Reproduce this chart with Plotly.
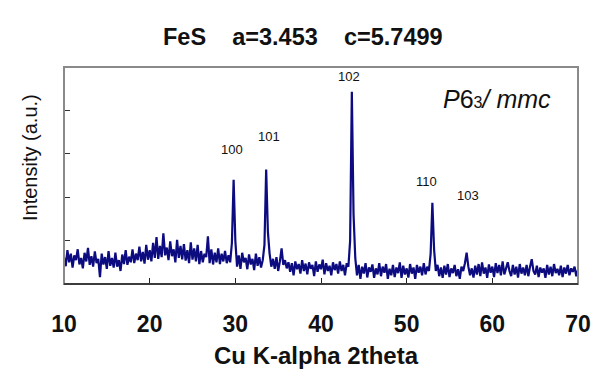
import numpy as np
import plotly.graph_objects as go

# 2theta grid: 10..70 deg, 0.2 deg step
two_theta = [round(10 + 0.2 * i, 1) for i in range(301)]

intensity = [
    # 10-12
    0.62, 0.41, 0.78, 0.50, 0.70, 0.38, 0.66, 0.55, 0.80, 0.45,
    # 12-14
    0.60, 0.36, 0.72, 0.52, 0.83, 0.44, 0.64, 0.40, 0.75, 0.48,
    # 14-16
    0.58, 0.16, 0.70, 0.45, 0.62, 0.35, 0.76, 0.42, 0.60, 0.38,
    # 16-18
    0.72, 0.40, 0.55, 0.30, 0.68, 0.46, 0.78, 0.44, 0.63, 0.50,
    # 18-20
    0.80, 0.48, 0.70, 0.55, 0.86, 0.52, 0.74, 0.47, 0.90, 0.56,
    # 20-22
    0.78, 0.52, 0.95, 0.60, 1.08, 0.58, 0.88, 0.62, 1.17, 0.66,
    # 22-24
    0.84, 0.55, 0.98, 0.64, 0.80, 0.50, 1.02, 0.60, 0.88, 0.57,
    # 24-26
    0.92, 0.54, 0.78, 0.48, 0.96, 0.56, 0.82, 0.52, 0.90, 0.46,
    # 26-28
    0.76, 0.50, 0.70, 0.62, 1.10, 0.48, 0.80, 0.45, 0.72, 0.50,
    # 28-30
    0.82, 0.46, 0.70, 0.52, 0.76, 0.48, 0.66, 0.50, 0.95, 2.40,
    # 30-32
    1.00, 0.40, 0.66, 0.35, 0.72, 0.50, 0.60, 0.34, 0.68, 0.45,
    # 32-34
    0.58, 0.32, 0.70, 0.42, 0.62, 0.38, 0.55, 0.90, 2.64, 1.20,
    # 34-36
    0.70, 0.40, 0.58, 0.35, 0.62, 0.30, 0.52, 0.82, 0.44, 0.55,
    # 36-38
    0.36, 0.50, 0.28, 0.48, 0.20, 0.52, 0.34, 0.46, 0.24, 0.55,
    # 38-40
    0.30, 0.47, 0.22, 0.50, 0.35, 0.44, 0.18, 0.52, 0.28, 0.45,
    # 40-42
    0.34, 0.56, 0.22, 0.48, 0.30, 0.42, 0.20, 0.50, 0.32, 0.46,
    # 42-44
    0.24, 0.52, 0.30, 0.44, 0.20, 0.48, 0.40, 1.00, 4.43, 1.60,
    # 44-46
    0.60, 0.20, 0.44, 0.12, 0.40, 0.24, 0.48, 0.15, 0.38, 0.28,
    # 46-48
    0.45, 0.14, 0.36, 0.22, 0.48, 0.18, 0.40, 0.26, 0.46, 0.12,
    # 48-50
    0.35, 0.20, 0.44, 0.16, 0.38, 0.25, 0.50, 0.14, 0.42, 0.22,
    # 50-52
    0.36, 0.15, 0.46, 0.24, 0.38, 0.12, 0.44, 0.26, 0.40, 0.20,
    # 52-54
    0.48, 0.22, 0.40, 0.30, 0.70, 1.87, 0.80, 0.30, 0.44, 0.18,
    # 54-56
    0.38, 0.14, 0.42, 0.22, 0.46, 0.16, 0.36, 0.25, 0.44, 0.18,
    # 56-58
    0.34, 0.12, 0.40, 0.30, 0.48, 0.72, 0.40, 0.20, 0.36, 0.15,
    # 58-60
    0.42, 0.22, 0.46, 0.18, 0.50, 0.24, 0.38, 0.14, 0.45, 0.26,
    # 60-62
    0.40, 0.16, 0.48, 0.25, 0.44, 0.20, 0.52, 0.22, 0.36, 0.50,
    # 62-64
    0.30, 0.18, 0.44, 0.22, 0.40, 0.15, 0.46, 0.24, 0.38, 0.20,
    # 64-66
    0.44, 0.18, 0.40, 0.57, 0.30, 0.22, 0.42, 0.16, 0.38, 0.26,
    # 66-68
    0.36, 0.14, 0.44, 0.22, 0.40, 0.18, 0.46, 0.25, 0.35, 0.20,
    # 68-70
    0.42, 0.16, 0.38, 0.24, 0.44, 0.20, 0.36, 0.28, 0.40, 0.18,
    # 70
    0.32,
]

peak_labels = ["100", "101", "102", "110", "103"]
peak_label_x = [29.57, 33.93, 43.27, 52.34, 57.16]
peak_label_y = [3.09, 3.39, 4.78, 2.36, 2.05]

x_ticks = [10, 20, 30, 40, 50, 60, 70]

FONT = "Liberation Sans, Arial, sans-serif"

fig = go.Figure()
fig.add_trace(go.Scatter(
    x=two_theta, y=intensity, mode="lines",
    line=dict(color="#0c0c80", width=2.2),
    showlegend=False, hoverinfo="skip",
))

# gray frame
fig.add_shape(type="rect", xref="paper", yref="paper", x0=0, y0=0, x1=1, y1=1,
              line=dict(color="#8a8a8a", width=2), layer="above")
# dark bottom axis line
fig.add_shape(type="line", xref="paper", yref="paper", x0=0, y0=0, x1=1, y1=0,
              line=dict(color="#222", width=1.5), layer="above")

fig.update_layout(
    width=616, height=387,
    margin=dict(l=64, r=38, t=67, b=103),
    paper_bgcolor="white", plot_bgcolor="white",
    xaxis=dict(
        range=[10, 70], tickvals=x_ticks, ticktext=[str(v) for v in x_ticks],
        ticks="inside", ticklen=6, tickcolor="#222", tickwidth=1,
        ticklabelstandoff=24,
        showline=False, showgrid=False, zeroline=False,
        tickfont=dict(family=FONT, size=23, color="#111", weight="bold"),
    ),
    yaxis=dict(
        range=[0, 5], tickvals=[1, 2, 3, 4], showticklabels=False,
        ticks="inside", ticklen=6, tickcolor="#333", tickwidth=1,
        showline=False, showgrid=False, zeroline=False,
    ),
)

ann = []
for t, xv, yv in zip(peak_labels, peak_label_x, peak_label_y):
    ann.append(dict(x=xv, y=yv, xref="x", yref="y", text=t, showarrow=False,
                    xanchor="center", yanchor="middle",
                    font=dict(family=FONT, size=13, color="#111")))

def px(xp):
    return (xp - 64) / 514

def py(yp):
    return (284 - yp) / 217

ann.append(dict(x=px(303), y=py(37), xref="paper", yref="paper",
                xanchor="center", yanchor="middle",
                text="FeS&nbsp;&nbsp;&nbsp;&nbsp;a=3.453&nbsp;&nbsp;&nbsp;&nbsp;c=5.7499",
                showarrow=False, font=dict(family=FONT, size=23.5, color="#111", weight="bold")))
ann.append(dict(x=px(497), y=py(99), xref="paper", yref="paper",
                xanchor="center", yanchor="middle",
                text="<i>P</i>6<span style='font-size:16px'>3</span><i>/ mmc</i>",
                showarrow=False, font=dict(family=FONT, size=25, color="#111")))
ann.append(dict(x=px(316), y=py(355), xref="paper", yref="paper",
                xanchor="center", yanchor="middle",
                text="Cu K-alpha 2theta", showarrow=False,
                font=dict(family=FONT, size=24, color="#111", weight="bold")))
ann.append(dict(x=px(30), y=py(158), xref="paper", yref="paper",
                xanchor="center", yanchor="middle",
                text="Intensity (a.u.)", showarrow=False, textangle=-90,
                font=dict(family=FONT, size=20, color="#111")))
fig.update_layout(annotations=ann)

fig.write_html("out.html", post_script="document.body.style.margin='0';",
               config={"displayModeBar": False})
